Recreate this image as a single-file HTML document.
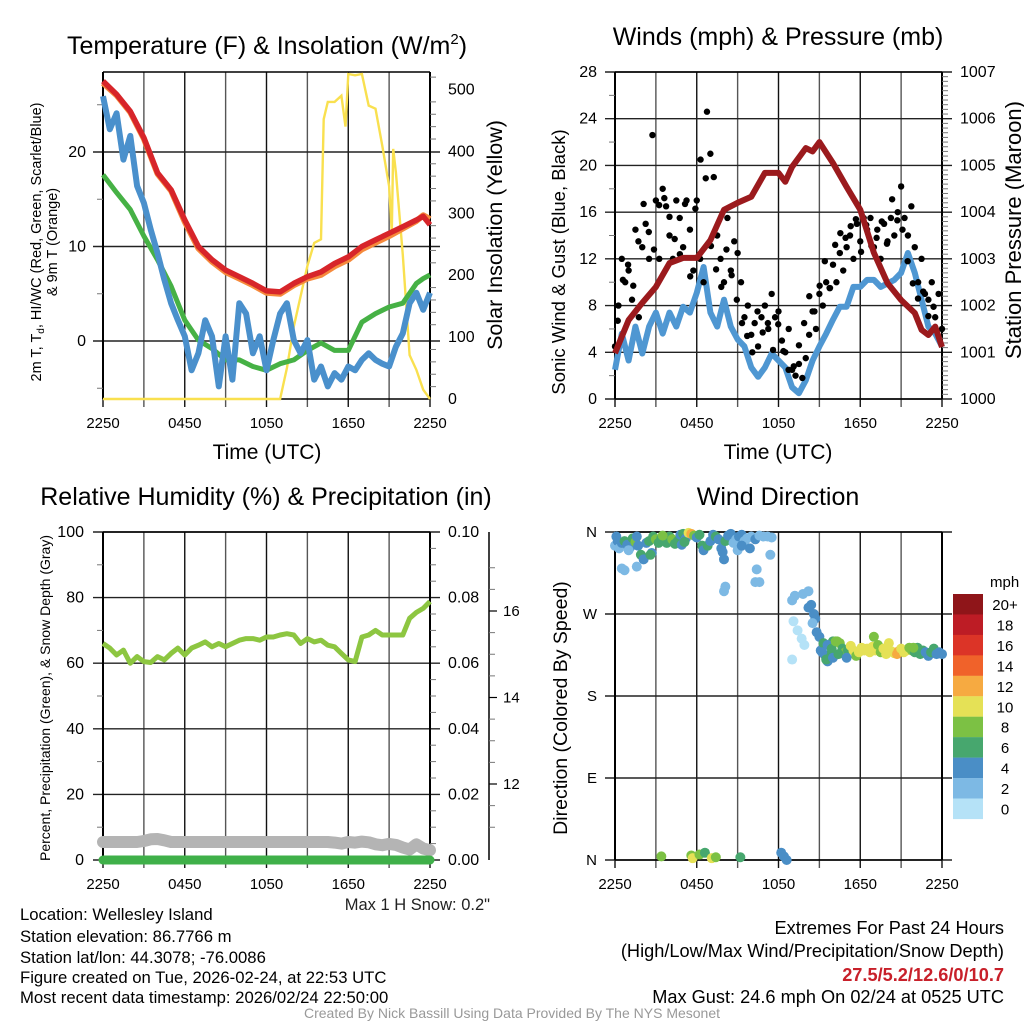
<!DOCTYPE html>
<html><head><meta charset="utf-8"><style>
body{margin:0;background:#fff}
svg{display:block;font-family:"Liberation Sans",sans-serif}
</style></head><body>
<svg id="chart" width="1024" height="1024" viewBox="0 0 1024 1024" xmlns="http://www.w3.org/2000/svg">
<rect width="1024" height="1024" fill="#fff"/>
<g id="g1"></g>
<g id="g2"></g>
<g id="g3"></g>
<g id="g4"></g>
<text x="267" y="54" font-size="25" text-anchor="middle">Temperature (F) &amp; Insolation (W/m<tspan font-size="15" dy="-10">2</tspan><tspan dy="10">)</tspan></text>
<text x="778" y="45" font-size="25" text-anchor="middle">Winds (mph) &amp; Pressure (mb)</text>
<text x="266" y="505" font-size="25" text-anchor="middle">Relative Humidity (%) &amp; Precipitation (in)</text>
<text x="778" y="505" font-size="25" text-anchor="middle">Wind Direction</text>
<text x="267" y="459" font-size="21" text-anchor="middle">Time (UTC)</text>
<text x="778" y="459" font-size="21" text-anchor="middle">Time (UTC)</text>
<text transform="translate(41,242) rotate(-90)" font-size="14.5" text-anchor="middle">2m T, T<tspan font-size="10" dy="3">d</tspan><tspan dy="-3">, HI/WC (Red, Green, Scarlet/Blue)</tspan></text>
<text transform="translate(57,242) rotate(-90)" font-size="14.5" text-anchor="middle">&amp; 9m T (Orange)</text>
<text transform="translate(502,235) rotate(-90)" font-size="21.5" text-anchor="middle">Solar Insolation (Yellow)</text>
<text transform="translate(565,262) rotate(-90)" font-size="18.5" text-anchor="middle">Sonic Wind &amp; Gust (Blue, Black)</text>
<text transform="translate(1021,230) rotate(-90)" font-size="22" text-anchor="middle">Station Pressure (Maroon)</text>
<text transform="translate(50,698) rotate(-90)" font-size="14" text-anchor="middle">Percent, Precipitation (Green), &amp; Snow Depth (Gray)</text>
<text transform="translate(567,708) rotate(-90)" font-size="19.5" text-anchor="middle">Direction (Colored By Speed)</text>
<text x="490" y="910" font-size="16.5" text-anchor="end" fill="#222">Max 1 H Snow: 0.2"</text>
<g font-size="16.7" fill="#000">
<text x="20" y="920">Location: Wellesley Island</text>
<text x="20" y="942">Station elevation: 86.7766 m</text>
<text x="20" y="963">Station lat/lon: 44.3078; -76.0086</text>
<text x="20" y="983">Figure created on Tue, 2026-02-24, at 22:53 UTC</text>
<text x="20" y="1003">Most recent data timestamp: 2026/02/24 22:50:00</text>
</g>
<g font-size="18.2" text-anchor="end">
<text x="1004" y="934">Extremes For Past 24 Hours</text>
<text x="1004" y="957">(High/Low/Max Wind/Precipitation/Snow Depth)</text>
<text x="1004" y="981" fill="#c8202a" font-weight="bold">27.5/5.2/12.6/0/10.7</text>
<text x="1004" y="1003">Max Gust: 24.6 mph On 02/24 at 0525 UTC</text>
</g>
<text x="512" y="1018" font-size="14" fill="#999" text-anchor="middle">Created By Nick Bassill Using Data Provided By The NYS Mesonet</text>
</svg>
<script>
// ---- data (time in hours since 2250 UTC) ----
const xTickLabels = ["2250","0450","1050","1650","2250"];
const tHalf = [0,0.5,1,1.5,2,2.5,3,3.5,4,4.5,5,5.5,6,6.5,7,7.5,8,8.5,9,9.5,10,10.5,11,11.5,12,12.5,13,13.5,14,14.5,15,15.5,16,16.5,17,17.5,18,18.5,19,19.5,20,20.5,21,21.5,22,22.5,23,23.5,24];
const tHour = [0,1,2,3,4,5,6,7,8,9,10,11,12,13,14,15,16,17,18,19,20,21,22,23,23.5,24];
const tempRed = [27.5,26.1,24.3,21.5,17.8,16,12.8,10,8.6,7.5,6.8,6.1,5.3,5.2,6.1,6.8,7.3,8.2,8.9,10,10.7,11.4,12.1,12.8,13.2,12.3];
const temp9m = [27.3,26.0,24.2,21.4,17.7,15.9,12.6,9.8,8.4,7.3,6.6,5.9,5.1,5.0,5.9,6.6,7.0,7.9,8.6,9.7,10.4,11.1,11.9,12.7,13.3,12.9];
const dewGreen = [17.6,15.7,13.9,11.1,8.6,5.8,2.2,0.1,-0.8,-2,-2,-2.7,-3.1,-2.4,-2,-1,-0.2,-1,-1,2,2.9,3.6,4,6.1,6.6,7];
const windChill = [25.9,22.4,24.1,19.2,21.7,16.4,14.6,11.8,9.3,6.5,4,2.2,0.5,-3.1,-1.3,2.2,0.5,-4.8,0.5,-4.1,4,2.9,-1.3,0.5,-3.1,0.1,2.9,4,0.1,-1.3,0.1,-4.1,-2.7,-4.8,-3.4,-4.1,-2.7,-3.1,-2,-1.3,-2,-2.4,-2.7,-0.6,0.8,4,5.1,3.3,5.1];
const tSolar = [0,13,13.5,14,14.5,15,15.5,16,16.2,16.5,17,17.5,17.8,18,18.5,19,19.5,20,20.5,21,21.2,21.3,21.5,22,22.5,23,23.5,24];
const solar = [0,0,50,117,166,215,252,258,452,480,480,490,440,525,523,525,474,469,409,344,270,404,366,233,71,47,15,0];
const windBlue = [2.5,5.6,3.3,6.2,3.9,6.2,7.4,5.6,7.4,6.2,7.9,7.4,9.1,11.3,7.4,6.2,8.5,6.2,5.1,4.5,2.7,1.9,2.7,3.9,3.3,2.7,1,0.5,1.6,3.3,4.5,5.6,6.8,7.9,7.9,9.6,9.6,10.2,10.2,9.6,9.9,10.2,10.8,12.5,10.8,8.5,6.2,5.6,4.5];
const tPres = [0,1,2,3,4,5,6,7,8,9,10,11,12,12.5,13,14,14.5,15,16,17,18,19,20,21,22,22.5,23,23.5,24];
const pressure = [1000.98,1001.69,1002.06,1002.4,1002.91,1003.02,1003.02,1003.4,1004.05,1004.2,1004.33,1004.84,1004.84,1004.65,1004.97,1005.37,1005.3,1005.5,1005.05,1004.54,1004.05,1003.13,1002.48,1002.12,1001.84,1001.48,1001.37,1001.55,1001.11];
const gusts = [4.5,8,12,10,11,8.5,14.5,7,13,15,12,22.6,17,12,18,16.5,14,12,17,15.5,13,17,14.5,11,17,12,10,24.6,21,19,14,12,10,15.5,11,13.5,12.5,10,7,8,5.5,6.5,4.5,7,8,6,9,7,7.5,5,4,6,2.5,2,3,1.8,3.5,5.5,7.5,6,9,8,10,9.5,11.5,10,12.5,11,13,14,12,15,13.5,15.5,14.5,15.5,13,14.5,12,15,13.5,15.5,14,16,18.2,15.5,14,16.5,13,10,12,9,8.5,10,7,9,6];
const gusts2 = [6.7,10.2,11.5,9.7,13.5,16.7,14.3,12.8,16.6,17.2,15.6,13.7,12.4,16.7,10.5,16.3,20.5,18.9,13.1,11.1,9.6,12.8,10.6,8.5,6.5,5.4,4,7.5,5.7,6.5,4.2,6.4,4.1,2.5,2.8,4.6,6.5,8.8,7.5,9.7,11.8,9.5,13.2,14.2,13.8,14.8,15.4,12.6,14.9,13.1,13.8,15.2,13.3,17.1,15.3,14.5,11.8,9.9,8.6,9.2,7.1,7.9];
const rh = [66,64.6,62.5,64,60,62,60.5,60.2,62,61,63,64.6,62.5,64.6,65.5,66.5,65,66,65,66,67,67.5,67.5,67,68,68,68.6,69,68.6,66,67.5,66.5,67,65.5,65,63,61,60.5,68,68.6,70,68.6,68.6,68.6,68.6,73.7,75.5,76.7,78.8];
const snowDepthPct = [5.5,5.5,5.5,5.5,5.5,5.5,5.8,6.3,6.4,6,5.5,5.5,5.5,5.5,5.5,5.5,5.5,5.5,5.5,5.5,5.5,5.5,5.5,5.5,5.5,5.5,5.5,5.5,5.5,5.5,5.5,5.5,5.5,5.5,5.3,5.0,5.5,5.3,5.6,5.4,4.8,4.5,4.9,4.6,3.8,3.2,4.8,3.5,3.0];
const precip = [0,0,0,0,0,0,0,0,0,0,0,0,0,0,0,0,0,0,0,0,0,0,0,0,0,0,0,0,0,0,0,0,0,0,0,0,0,0,0,0,0,0,0,0,0,0,0,0,0];
const dirTime = [0,0.1,0.2,0.3,0.5,0.7,0.9,1.1,1.3,1.5,1.7,1.9,2.1,2.3,2.5,2.8,3,3.2,3.4,3.6,3.8,4,4.2,4.4,4.6,4.8,5,5.2,5.4,5.6,5.8,6,6.2,6.4,6.5,6.8,7,7.2,7.4,7.6,7.8,8.1,8.3,8.5,8.7,8.9,9.1,9.3,9.5,9.7,10,10.3,10.6,10.9,11.2,11.5,9,9.9,1,1.6,4.9,5.1,3.5,0.5,0.7,1.6,2.7,2.6,8.1,8,10.4,10.3,10.6,11.4,8,7.9,9.3,3.4,5.6,5.7,6.2,6.6,7.1,7.4,9.2,12.2,12.4,12.6,13,13.2,13.8,14.2,14.4,14.6,14.7,14.8,13.1,13.4,13.7,13.9,13,14.2,14.5,15,15.1,15.4,15.6,15.8,16,16.3,15.3,15.6,15.9,16.2,16.5,16.7,16.9,17.1,17.3,17.5,17.7,17.9,18.1,18.3,18.5,18.7,18.9,19.1,19.3,19.5,19.7,19.9,20.1,20.3,20.5,20.7,20.8,21,21.2,21.4,21.6,21.8,22,22.2,22.4,22.6,22.8,23,23.2,23.4,23.6,23.8,24,15.2,15.5,16,16.4,17,19,21.9];
const dirDeg = [345,355,350,342,348,350,346,343,353,349,345,335,330,348,350,355,352,348,353,350,348,355,352,347,350,357,358,353,359,358,356,354,357,345,340,345,350,357,355,352,342,350,356,358,348,352,355,357,350,353,355,352,356,355,355,354,340,342,340,355,346,349,356,320,318,322,337,335,300,295,319,305,305,335,330,338,345,4,5,2,6,8,2,3,3,8,4,0,285,290,292,295,280,270,265,250,262,252,243,236,220,277,260,245,230,225,218,225,240,240,238,236,232,240,238,232,228,230,235,230,224,228,233,230,232,228,234,230,236,228,232,226,238,229,227,226,229,232,228,230,233,230,228,233,226,230,228,224,228,232,226,228,226,228,220,222,226,222,245,233];
const dirSpeed = [2,4,4,2,4,6,4,4,6,8,4,6,4,4,6,6,8,6,6,6,6,6,8,6,6,4,6,4,10,12,8,4,6,6,4,6,4,4,6,4,4,6,4,4,2,2,4,4,2,2,2,4,2,2,2,2,2,4,2,4,4,6,8,2,2,2,4,6,2,2,2,2,2,2,4,4,4,8,8,10,8,6,10,8,6,4,4,4,2,2,2,2,4,4,4,4,0,0,0,0,0,4,2,4,4,4,4,6,6,8,6,4,6,8,8,6,8,6,10,10,8,10,10,10,10,10,10,10,8,8,10,10,10,10,10,12,12,10,10,10,8,8,6,6,6,6,4,4,6,6,4,4,4,4,6,4,6,4,8,8];
const speedLabels = ["20+","18","16","14","12","10","8","6","4","2","0"];
const speedColors = ["#b5e2f7","#7db9e4","#4a8ec6","#47a76e","#7cc144","#e5e156","#f6aa41","#f0622a","#dc3427","#bd1c25","#8f1519"];

const NS="http://www.w3.org/2000/svg";
function mk(parent,tag,attrs){const e=document.createElementNS(NS,tag);for(const k in attrs)e.setAttribute(k,attrs[k]);parent.appendChild(e);return e;}
function lin(d0,d1,r0,r1){return v=>r0+(v-d0)/(d1-d0)*(r1-r0);}
function path(xs,ys,fx,fy){return xs.map((t,i)=>(i?'L':'M')+fx(t).toFixed(1)+','+fy(ys[i]).toFixed(1)).join('');}

function frame(g,L,R,T,B,hy){
  const fx=lin(0,24,L,R);
  for(let h=0;h<=24;h+=3){const x=fx(h);
    const l=mk(g,'line',{x1:x,y1:T,x2:x,y2:B+8,stroke:h%6?'#555':'#111','stroke-width':1.4});
    
    }
  hy.forEach(y=>{const l=mk(g,'line',{x1:L-10,y1:y,x2:R+10,y2:y,stroke:'#222','stroke-width':1.4});
    
    });
  mk(g,'line',{x1:L,y1:T,x2:L,y2:B,stroke:'#000','stroke-width':2});
  mk(g,'line',{x1:R,y1:T,x2:R,y2:B,stroke:'#000','stroke-width':2});
  mk(g,'line',{x1:L,y1:T,x2:R,y2:T,stroke:'#000','stroke-width':1.4});
  mk(g,'line',{x1:L,y1:B,x2:R,y2:B,stroke:'#000','stroke-width':1.4});
  xTickLabels.forEach((s,i)=>{const t=mk(g,'text',{x:fx(i*6),y:B+29,'font-size':15,'text-anchor':'middle'});t.textContent=s;
    
    });
  return fx;
}
function ticks(g,vals,fy,x,anchor,fmt,fs){vals.forEach(v=>{const t=mk(g,'text',{x:x,y:fy(v)+5,'font-size':fs||16,'text-anchor':anchor});t.textContent=fmt(v);
  
  });}
function minor(g,vals,fy,x,dir){vals.forEach(v=>mk(g,'line',{x1:x,y1:fy(v),x2:x+dir*6,y2:fy(v),stroke:'#777','stroke-width':1}));}

// Panel 1
(function(){
  const g=document.getElementById('g1');
  const L=103,R=430,T=72,B=399;
  const fy=lin(0,10,341,246.5), fs=lin(0,500,399,89.5);
  const fx=frame(g,L,R,T,B,[fy(20),fy(10),fy(0)]);
  ticks(g,[20,10,0],fy,86,'end',v=>v);
  ticks(g,[0,100,200,300,400,500],fs,448,'start',v=>v);
  minor(g,[25,15,5,-5],fy,L,-1);
  const mv=[];for(let v=20;v<=520;v+=20)if(v%100)mv.push(v);minor(g,mv,fs,R,1);
  const s=mk(g,'path',{d:path(tSolar,solar,fx,fs),fill:'none',stroke:'#f9e04f','stroke-width':2.4});
  
  
  const d=mk(g,'path',{d:path(tHour,dewGreen,fx,fy),fill:'none',stroke:'#46b145','stroke-width':5,'stroke-linejoin':'round'});
  
  
  const w=mk(g,'path',{d:path(tHalf,windChill,fx,fy),fill:'none',stroke:'#4a90cc','stroke-width':6,'stroke-linejoin':'round'});
  
  
  const o=mk(g,'path',{d:path(tHour,temp9m,fx,fy),fill:'none',stroke:'#f68a3c','stroke-width':6,'stroke-linejoin':'round'});
  
  
  const r=mk(g,'path',{d:path(tHour,tempRed,fx,fy),fill:'none',stroke:'#d7252a','stroke-width':5.5,'stroke-linejoin':'round'});
  
  
})();

// Panel 2
(function(){
  const g=document.getElementById('g2');
  const L=615,R=942,T=72,B=399;
  const fy=lin(0,28,399,72), fp=lin(1000,1007,399,72);
  const fx=frame(g,L,R,T,B,[0,4,8,12,16,20,24,28].map(fy));
  ticks(g,[0,4,8,12,16,20,24,28],fy,597,'end',v=>v);
  ticks(g,[1000,1001,1002,1003,1004,1005,1006,1007],fp,960,'start',v=>v);
  const mv=[];for(let v=2;v<28;v+=4)mv.push(v);minor(g,mv,fy,L,-1);
  const mp=[];for(let v=1000.1;v<1007;v+=0.1)if(Math.abs(v-Math.round(v))>0.05)mp.push(v);minor(g,mp,fp,R,1);
  const b=mk(g,'path',{d:path(tHalf,windBlue,fx,fy),fill:'none',stroke:'#4f97d2','stroke-width':6,'stroke-linejoin':'round'});
  
  
  gusts.forEach((v,i)=>{const c=mk(g,'circle',{cx:fx(i*0.25),cy:fy(v),r:3.2,fill:'#000'});
    
    });
  gusts2.forEach((v,i)=>{const c=mk(g,'circle',{cx:fx(0.2+i*0.38),cy:fy(v),r:3.2,fill:'#000'});
    
    });
  const p=mk(g,'path',{d:path(tPres,pressure,fx,fp),fill:'none',stroke:'#9b1a1d','stroke-width':6,'stroke-linejoin':'round'});
  
  
})();

// Panel 3
(function(){
  const g=document.getElementById('g3');
  const L=103,R=430,T=532,B=860;
  const fy=lin(0,100,860,532), fr=lin(0,0.1,860,532), fsd=lin(12,16,784,611);
  const fx=frame(g,L,R,T,B,[0,20,40,60,80,100].map(fy));
  ticks(g,[0,20,40,60,80,100],fy,84,'end',v=>v);
  ticks(g,[0,0.02,0.04,0.06,0.08,0.1],fr,448,'start',v=>v.toFixed(2));
  const mv=[];for(let v=10;v<100;v+=20)mv.push(v);minor(g,mv,fy,L,-1);
  const mr=[];for(let v=0.005;v<0.1;v+=0.005)if(Math.round(v*1000)%20)mr.push(v);minor(g,mr,fr,R,1);
  mk(g,'line',{x1:489,y1:532,x2:489,y2:860,stroke:'#000','stroke-width':1.5});
  [12,14,16].forEach(v=>mk(g,'line',{x1:489,y1:fsd(v),x2:497,y2:fsd(v),stroke:'#000','stroke-width':1.2}));
  const ms=[];for(let v=11;v<=17.4;v+=0.5)if(v%2)ms.push(v);minor(g,ms.filter(v=>fsd(v)>534&&fsd(v)<858),fsd,489,1);
  ticks(g,[12,14,16],fsd,503,'start',v=>v,15);
  const sd=mk(g,'path',{d:path(tHalf,snowDepthPct,fx,fy),fill:'none',stroke:'#b4b4b4','stroke-width':12,'stroke-linecap':'round','stroke-linejoin':'round'});
  
  
  const pr=mk(g,'path',{d:path(tHalf,precip,fx,fr),fill:'none',stroke:'#3fb049','stroke-width':9,'stroke-linecap':'round'});
  
  
  const h=mk(g,'path',{d:path(tHalf,rh,fx,fy),fill:'none',stroke:'#8dc641','stroke-width':5,'stroke-linejoin':'round'});
  
  
})();

// Panel 4
(function(){
  const g=document.getElementById('g4');
  const L=615,R=942,T=532,B=860;
  const fy=lin(0,360,860,532);
  const fx=frame(g,L,R,T,B,[0,90,180,270,360].map(fy));
  ticks(g,[0,90,180,270,360],fy,597,'end',v=>['N','E','S','W','N'][v/90],15);
  dirTime.forEach((t,i)=>{const k=Math.min(10,Math.floor(dirSpeed[i]/2));
    const c=mk(g,'circle',{cx:fx(t),cy:fy(dirDeg[i]),r:5,fill:speedColors[k]});
    
    });
  const cb=mk(g,'g',{});
  
  
  const t=mk(cb,'text',{x:990,y:587,'font-size':15});t.textContent='mph';
  speedLabels.forEach((s,i)=>{const y=594+i*20.45;
    mk(cb,'rect',{x:953,y:y,width:30,height:20.6,fill:speedColors[10-i]});
    const tx=mk(cb,'text',{x:1005,y:y+16,'font-size':15,'text-anchor':'middle'});tx.textContent=s;
    
    });
})();
</script>
</body></html>
